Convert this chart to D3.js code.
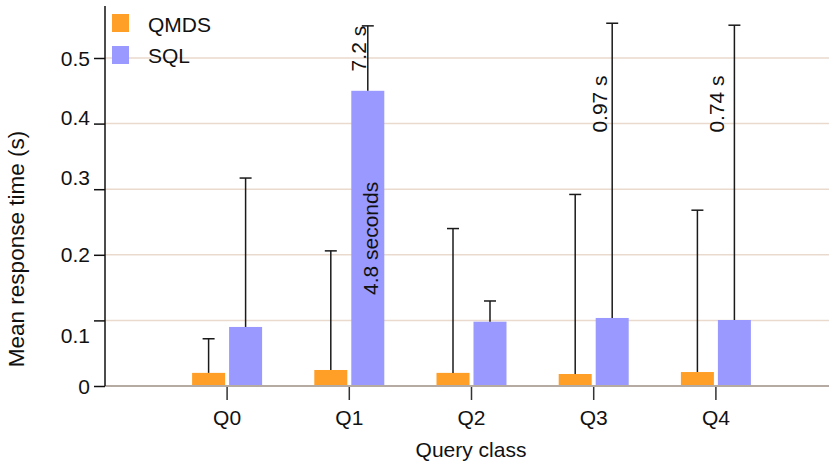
<!DOCTYPE html>
<html><head><meta charset="utf-8">
<script src="https://cdn.jsdelivr.net/npm/d3@7"></script>
<style>
html,body{margin:0;padding:0;background:#fff;}
text{font-family:"Liberation Sans",Arial,Helvetica,sans-serif;fill:#111;}
</style></head>
<body><svg id="c" width="829" height="465"></svg>
<script>
// ---- data ----
const categories = ["Q0","Q1","Q2","Q3","Q4"];
const seriesNames = ["QMDS","SQL"];
const qmdsMean = [0.020, 0.0244, 0.020, 0.0183, 0.0213];
const qmdsErrTop = [0.072, 0.206, 0.240, 0.292, 0.268];
const sqlMean = [0.090, 0.450, 0.098, 0.1037, 0.1006];
const sqlErrTop = [0.317, 0.549, 0.1296, 0.553, 0.550];
const yTickValues = [0, 0.1, 0.2, 0.3, 0.4, 0.5];
const yTickLabels = ["0", "0.1", "0.2", "0.3", "0.4", "0.5"];
const annotationTexts = ["4.8 seconds", "7.2 s", "0.97 s", "0.74 s"];
const annotationCats = ["Q1", "Q1", "Q3", "Q4"];

// ---- layout / style ----
const colors = {QMDS:"#ff9f27", SQL:"#9999ff"};
const pL = 105, pR = 829, pB = 386, pT = 6;
const yLabelShift = [0, 15, 0, -12, -6, 0];
const FS = 21;

const svg = d3.select("#c");
const y = d3.scaleLinear().domain([0, 380/656]).range([pB, pT]);
const x = d3.scaleBand().domain(categories).range([166, 777]).paddingInner(0);
const x1 = d3.scaleBand().domain(seriesNames).range([-35, 35]).paddingInner(0.108);
const cx = c => x(c) + x.bandwidth()/2;

// gridlines
svg.append("g").selectAll("line").data(yTickValues.filter(v => v > 0)).join("line")
  .attr("x1", pL).attr("x2", pR).attr("y1", d => y(d)).attr("y2", d => y(d))
  .attr("stroke", "#ead9cd").attr("stroke-width", 1.5);

// bars
const rows = categories.map((c, i) => ({c, vals: [
  {s:"QMDS", v:qmdsMean[i], e:qmdsErrTop[i]},
  {s:"SQL", v:sqlMean[i], e:sqlErrTop[i]}]}));
const g = svg.append("g");
rows.forEach(r => {
  r.vals.forEach(d => {
    const bx = cx(r.c) + x1(d.s);
    g.append("rect").attr("x", bx).attr("y", y(d.v))
      .attr("width", x1.bandwidth()).attr("height", y(0) - y(d.v))
      .attr("fill", colors[d.s]);
    const ex = bx + x1.bandwidth()/2;
    g.append("line").attr("x1", ex).attr("x2", ex).attr("y1", y(d.v)).attr("y2", y(d.e))
      .attr("stroke", "#1a1a1a").attr("stroke-width", 1.5);
    g.append("line").attr("x1", ex - 6).attr("x2", ex + 6).attr("y1", y(d.e)).attr("y2", y(d.e))
      .attr("stroke", "#1a1a1a").attr("stroke-width", 1.5);
  });
});

// baseline
svg.append("line").attr("x1", pL).attr("x2", pR).attr("y1", y(0)).attr("y2", y(0))
  .attr("stroke", "#b5aba3").attr("stroke-width", 2);

// y axis
const yAxis = svg.append("g").attr("transform", `translate(${pL},0)`)
  .call(d3.axisLeft(y).tickValues(yTickValues).tickSize(11).tickPadding(4)
    .tickFormat((d, i) => yTickLabels[i]));
yAxis.select(".domain").remove();
yAxis.selectAll(".tick line").attr("stroke", "#111").attr("stroke-width", 1.5);
yAxis.selectAll(".tick text").attr("font-size", FS).attr("font-family", null)
  .attr("dy", (d, i) => (yLabelShift[i] + 7) + "px");
svg.append("line").attr("x1", pL).attr("x2", pL).attr("y1", pT).attr("y2", pB)
  .attr("stroke", "#111").attr("stroke-width", 1.5);

// x axis
const xAxis = svg.append("g").attr("transform", `translate(0,${pB + 1})`)
  .call(d3.axisBottom(x).tickSize(13).tickPadding(10));
xAxis.select(".domain").remove();
xAxis.selectAll(".tick line").attr("stroke", "#333").attr("stroke-width", 1.5);
xAxis.selectAll(".tick text").attr("font-size", FS).attr("font-family", null);

// axis titles
svg.append("text").attr("x", 471).attr("y", 457).attr("text-anchor", "middle")
  .attr("font-size", FS).text("Query class");
svg.append("text").attr("transform", "translate(24,249) rotate(-90)").attr("text-anchor", "middle")
  .attr("font-size", 22.5).text("Mean response time (s)");

// legend
seriesNames.forEach((s, i) => {
  svg.append("rect").attr("x", 112).attr("y", 14 + i*32).attr("width", 17).attr("height", 18)
    .attr("fill", colors[s]);
  svg.append("text").attr("x", 148).attr("y", 31.5 + i*31.5).attr("font-size", FS).text(s);
});

// annotations (rotated)
const sqlCenter = c => cx(c) + x1("SQL") + x1.bandwidth()/2;
const annLayout = [
  {ax: c => sqlCenter(c) + 10, ay: c => (y(sqlMean[1]) + y(0))/2, anchor:"middle"},
  {ax: c => sqlCenter(c) - 1.5, ay: c => y(sqlErrTop[1]), anchor:"end"},
  {ax: c => sqlCenter(c) - 5, ay: c => 104, anchor:"middle"},
  {ax: c => sqlCenter(c) - 10, ay: c => 104, anchor:"middle"}
];
annotationTexts.forEach((t, i) => {
  const c = annotationCats[i], L = annLayout[i];
  svg.append("text").attr("transform", `translate(${L.ax(c)},${L.ay(c)}) rotate(-90)`)
    .attr("text-anchor", L.anchor).attr("font-size", FS).text(t);
});
</script></body></html>
